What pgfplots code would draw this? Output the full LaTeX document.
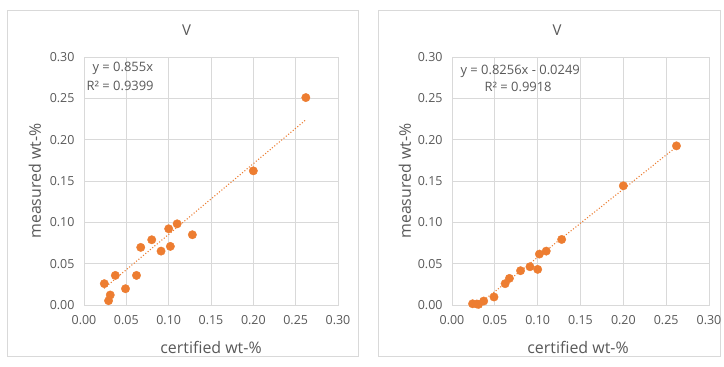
\documentclass[border=0pt]{standalone}
\usepackage{pgfplots}
\pgfplotsset{compat=1.18}
\usepackage{pgfplotstable}
\usepackage{fontspec}
\setmainfont{Open Sans}
\definecolor{txt}{RGB}{89,89,89}
\definecolor{gridc}{RGB}{217,217,217}
\definecolor{frame}{RGB}{217,217,217}
\definecolor{orng}{RGB}{237,125,49}
\pgfplotstableread{
x y
0.024 0.0258
0.029 0.0052
0.031 0.0121
0.037 0.0358
0.049 0.0197
0.062 0.0358
0.067 0.0697
0.080 0.0789
0.091 0.0652
0.100 0.0922
0.102 0.0709
0.110 0.0982
0.128 0.0850
0.200 0.1623
0.262 0.2509
}\leftdata
\pgfplotstableread{
x y
0.024 0.0015
0.029 0.0012
0.031 0.0008
0.037 0.0048
0.049 0.0097
0.062 0.0258
0.067 0.0322
0.080 0.0415
0.091 0.0463
0.100 0.0431
0.102 0.0616
0.110 0.0652
0.128 0.0793
0.200 0.1442
0.262 0.1925
}\rightdata
\pgfplotsset{
  panel/.style={
    scale only axis,
    height=248bp,
    xmin=0, xmax=0.30, ymin=0, ymax=0.30,
    xtick={0,0.05,...,0.31}, ytick={0,0.05,...,0.31},
    grid=major,
    grid style={gridc, line width=0.75bp},
    axis line style={gridc, line width=0.75bp},
    major tick length=0pt,
    tick label style={txt, font=\fontsize{12.5}{14}\selectfont},
    /pgf/number format/assume math mode=true,
    /pgf/number format/fixed,
    /pgf/number format/fixed zerofill,
    /pgf/number format/precision=2,
    scaled ticks=false,
    xticklabel style={yshift=-7bp},
    yticklabel style={xshift=-6bp},
    clip=true,
  },
  trend/.style={orng, line width=1.5bp, line cap=round, dash pattern=on 0pt off 3bp},
}
\begin{document}
\begin{tikzpicture}[x=1bp,y=1bp]
\path[use as bounding box] (0,0) rectangle (724,366);
\fill[white] (0,0) rectangle (724,366);
\draw[frame, line width=0.75bp] (7,10) rectangle (358,356);
\draw[frame, line width=0.75bp] (378,10) rectangle (720,356);
% left
\begin{axis}[panel, width=254bp, at={(84bp,61bp)}, anchor=south west]
\addplot[trend] coordinates {(0.024,0.0205) (0.262,0.2240)};
\addplot[only marks, mark=*, mark size=4.2bp, orng, mark options={draw=orng, fill=orng}] table[x=x,y=y] {\leftdata};
\end{axis}
% right
\begin{axis}[panel, width=257bp, at={(452bp,61bp)}, anchor=south west]
\addplot[trend] coordinates {(0.024,-0.0051) (0.262,0.1914)};
\addplot[only marks, mark=*, mark size=4.2bp, orng, mark options={draw=orng, fill=orng}] table[x=x,y=y] {\rightdata};
\end{axis}
% titles
\node[txt, font=\fontsize{15}{17}\selectfont] at (186.5,336) {V};
\node[txt, font=\fontsize{15}{17}\selectfont] at (557,336) {V};
% axis labels
\node[txt, font=\fontsize{16}{18}\selectfont] at (211,19) {certified wt-\%};
\node[txt, font=\fontsize{16}{18}\selectfont] at (578,19) {certified wt-\%};
\node[txt, font=\fontsize{16}{18}\selectfont, rotate=90] at (35,185) {measured wt-\%};
\node[txt, font=\fontsize{16}{18}\selectfont, rotate=90] at (405,185) {measured wt-\%};
% trendline labels
\node[txt, font=\fontsize{13}{15}\selectfont, anchor=west] at (89,298) {y = 0.855x};
\node[txt, font=\fontsize{13}{15}\selectfont, anchor=west] at (83,280) {R² = 0.9399};
\node[txt, font=\fontsize{13}{15}\selectfont, anchor=west] at (457,295) {y = 0.8256x - 0.0249};
\node[txt, font=\fontsize{13}{15}\selectfont, anchor=west] at (481,279) {R² = 0.9918};
\end{tikzpicture}
\end{document}
